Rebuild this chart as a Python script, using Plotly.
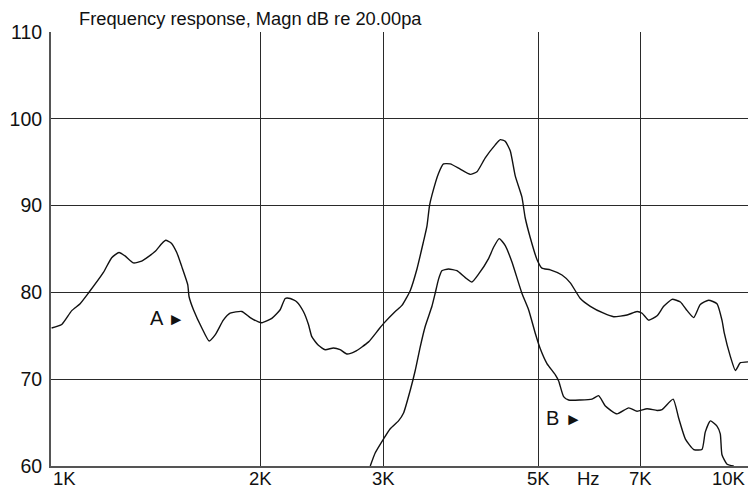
import math
import plotly.graph_objects as go

# ---- data ----
freq_a = [1002, 1036, 1071, 1101, 1131, 1189, 1222, 1252, 1277, 1313, 1349, 1410, 1441, 1461,
          1487, 1515, 1540, 1571, 1578, 1601, 1646, 1686, 1720, 1767, 1807, 1878, 1931, 1984,
          2007, 2074, 2132, 2168, 2204, 2253, 2302, 2341, 2367, 2419, 2474, 2542, 2599, 2657,
          2732, 2855, 2950, 2999, 3118, 3188, 3276, 3350, 3424, 3462, 3492, 3520, 3597, 3657,
          3739, 3865, 3995, 4085, 4198, 4339, 4412, 4485, 4560, 4636, 4738, 4790, 4871, 4980,
          5063, 5204, 5409, 5560, 5747, 5940, 6207, 6416, 6707, 6932, 7048, 7203, 7406, 7569,
          7783, 7999, 8178, 8359, 8541, 8779, 9026, 9176, 9247, 9435, 9592, 9752, 10000]
db_a = [75.9, 76.3, 77.9, 78.7, 79.9, 82.3, 84.0, 84.6, 84.2, 83.4, 83.6, 84.7, 85.6, 86.0,
        85.7, 84.6, 83.0, 80.9, 79.5, 78.0, 75.9, 74.4, 75.1, 76.8, 77.6, 77.8, 77.1, 76.6,
        76.5, 77.0, 78.0, 79.3, 79.3, 78.9, 77.8, 76.3, 74.9, 73.9, 73.4, 73.6, 73.4, 72.9,
        73.2, 74.3, 75.7, 76.4, 77.8, 78.5, 80.2, 82.7, 85.9, 87.6, 90.0, 91.2, 93.7, 94.8,
        94.8, 94.2, 93.6, 93.9, 95.5, 97.0, 97.6, 97.4, 96.3, 93.4, 91.0, 88.6, 86.3, 83.8,
        82.8, 82.6, 82.0, 81.1, 79.3, 78.4, 77.6, 77.2, 77.4, 77.8, 77.6, 76.8, 77.3, 78.4,
        79.2, 78.9, 77.9, 77.1, 78.6, 79.1, 78.7, 76.8, 75.3, 72.6, 71.0, 71.9, 72.0]

freq_b = [2871, 2918, 2999, 3067, 3152, 3205, 3276, 3331, 3386, 3443, 3520, 3558, 3597, 3637,
          3718, 3823, 3930, 4018, 4106, 4244, 4315, 4397, 4485, 4585, 4738, 4844, 4952, 5035,
          5147, 5292, 5350, 5438, 5529, 5747, 5973, 6105, 6242, 6488, 6742, 6932, 7165, 7406,
          7529, 7809, 7954, 8132, 8359, 8589, 8683, 8831, 9026, 9125, 9176, 9332, 9539]
db_b = [60.0, 61.5, 63.1, 64.3, 65.2, 66.1, 68.7, 71.0, 73.7, 76.1, 78.4, 79.9, 81.5, 82.5,
        82.7, 82.5, 81.7, 81.2, 82.1, 83.9, 85.2, 86.2, 85.4, 83.5, 79.9, 78.0, 75.3, 73.5,
        71.8, 70.5, 69.8, 68.0, 67.6, 67.6, 67.7, 68.1, 66.9, 66.0, 66.7, 66.3, 66.6, 66.4,
        66.5, 67.7, 65.5, 63.1, 61.9, 61.9, 63.9, 65.2, 64.6, 63.7, 61.3, 60.2, 60.0]

y_tick_vals = [60, 70, 80, 90, 100, 110]
x_tick_vals = [1000, 2000, 3000, 5000, 7000, 10000]
x_tick_text = ["1K", "2K", "3K", "5K", "7K", "10K"]
unit_text = "Hz"
unit_freq = 5900
title_text = "Frequency response, Magn dB re 20.00pa"
curve_names = ["A", "B"]
label_pos = [(1379, 77.1), (5103, 65.5)]

FONT = "Liberation Sans, Arial, Helvetica, sans-serif"
INK = "#111111"

fig = go.Figure()
for fx, dy, nm in [(freq_a, db_a, curve_names[0]), (freq_b, db_b, curve_names[1])]:
    fig.add_trace(go.Scatter(x=fx, y=dy, mode="lines", name=nm,
                             line=dict(color="#111111", width=1.4, shape="spline", smoothing=0.5),
                             showlegend=False, hoverinfo="skip"))

annotations = []
for i, (v, t) in enumerate(zip(x_tick_vals, x_tick_text)):
    anchor = "left" if i == 0 else ("right" if i == len(x_tick_vals) - 1 else "center")
    annotations.append(dict(x=math.log10(v), y=0, xref="x", yref="paper", text=t,
                            xanchor=anchor, yanchor="top", yshift=0, showarrow=False,
                            font=dict(family=FONT, size=18.5, color=INK)))
annotations.append(dict(x=math.log10(unit_freq), y=0, xref="x", yref="paper", text=unit_text,
                        xanchor="center", yanchor="top", yshift=0, showarrow=False,
                        font=dict(family=FONT, size=18.5, color=INK)))
for nm, (lx, ly) in zip(curve_names, label_pos):
    annotations.append(dict(x=math.log10(lx), y=ly, xref="x", yref="y",
                            text=nm + " <span style='font-size:17px'>►</span>",
                            xanchor="left", yanchor="middle", showarrow=False,
                            font=dict(family=FONT, size=20, color=INK)))
annotations.append(dict(x=math.log10(1000), y=1, xref="x", yref="paper", text=title_text,
                        xanchor="left", yanchor="bottom", xshift=26, yshift=1, showarrow=False,
                        font=dict(family=FONT, size=18.3, color=INK)))

fig.update_layout(
    width=751, height=488, autosize=False,
    margin=dict(l=51, r=3, t=32, b=22, pad=0),
    paper_bgcolor="white", plot_bgcolor="white",
    font=dict(family=FONT, size=19, color=INK),
    annotations=annotations,
    xaxis=dict(type="log", range=[3, 4], tickvals=x_tick_vals[1:-1], showticklabels=False,
               showgrid=True, gridcolor="#2a2a2a", gridwidth=1.4, zeroline=False,
               showline=True, linecolor="#555555", linewidth=2, ticks=""),
    yaxis=dict(range=[60, 110], tickvals=y_tick_vals, showgrid=True, gridcolor="#2a2a2a",
               gridwidth=1.4, zeroline=False, showline=True, linecolor="#555555", linewidth=2,
               ticks="", ticklabelstandoff=3, tickfont=dict(family=FONT, size=19.5, color=INK)),
)

fig.write_html("out.html", config={"displayModeBar": False},
               post_script="document.body.style.margin='0px';document.body.style.overflow='hidden';")
